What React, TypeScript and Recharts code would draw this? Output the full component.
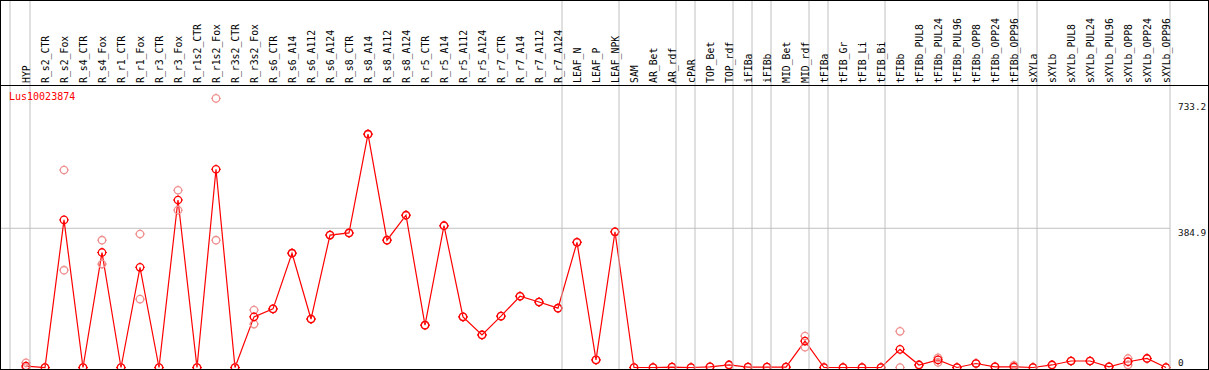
import { LineChart, Line, XAxis, YAxis, ReferenceLine } from 'recharts';

// sample names, left to right
const labels = [
  'HYP', 'R_s2_CTR', 'R_s2_Fox', 'R_s4_CTR', 'R_s4_Fox', 'R_r1_CTR', 'R_r1_Fox', 'R_r3_CTR', 'R_r3_Fox',
  'R_r1s2_CTR', 'R_r1s2_Fox', 'R_r3s2_CTR', 'R_r3s2_Fox', 'R_s6_CTR', 'R_s6_A14', 'R_s6_A112', 'R_s6_A124',
  'R_s8_CTR', 'R_s8_A14', 'R_s8_A112', 'R_s8_A124', 'R_r5_CTR', 'R_r5_A14', 'R_r5_A112', 'R_r5_A124',
  'R_r7_CTR', 'R_r7_A14', 'R_r7_A112', 'R_r7_A124', 'LEAF_N', 'LEAF_P', 'LEAF_NPK', 'SAM', 'AR_Bet', 'AR_rdf',
  'cPAR', 'TOP_Bet', 'TOP_rdf', 'iFIBa', 'iFIBb', 'MID_Bet', 'MID_rdf', 'tFIBa', 'tFIB_Gr', 'tFIB_Li', 'tFIB_Bi',
  'tFIBb', 'tFIBb_PUL8', 'tFIBb_PUL24', 'tFIBb_PUL96', 'tFIBb_OPP8', 'tFIBb_OPP24', 'tFIBb_OPP96', 'sXYLa',
  'sXYLb', 'sXYLb_PUL8', 'sXYLb_PUL24', 'sXYLb_PUL96', 'sXYLb_OPP8', 'sXYLb_OPP24', 'sXYLb_OPP96',
];

// mean expression per sample
const means = [
  4, 0, 408, 0, 318, 0, 277, 0, 463, 0, 548, 0, 140, 162, 316, 134, 366,
  372, 645, 352, 421, 117, 392, 140, 90, 142, 197, 181, 164, 346, 21, 375,
  0, 0, 1, 0, 2, 7, 1, 1, 1, 73, 0, 0, 0, 0, 50, 7, 21, 0, 11, 2, 2,
  0, 7, 18, 18, 2, 16, 25, 0,
];

// individual replicates
const rep1 = [
  13, 0, 546, 0, 352, 0, 369, 0, 490, 0, 744, 0, 159, 162, 316, 134, 366,
  372, 645, 352, 421, 117, 392, 140, 90, 142, 197, 181, 164, 346, 21, 375,
  0, 0, 1, 0, 2, 7, 1, 1, 1, 87, 0, 0, 0, 0, 100, 7, 27, 0, 11, 2, 6,
  0, 7, 18, 18, 2, 25, 25, 0,
];
const rep2 = [
  0, 0, 269, 0, 286, 0, 189, 0, 435, 0, 352, 0, 120, 162, 316, 134, 366,
  372, 645, 352, 421, 117, 392, 140, 90, 142, 197, 181, 164, 346, 21, 375,
  0, 0, 1, 0, 2, 7, 1, 1, 1, 56, 0, 0, 0, 0, 0, 7, 14, 0, 11, 2, 0,
  0, 7, 18, 18, 2, 7, 25, 0,
];

// last sample of each tissue group (gray separators)
const groupEnds = [0, 28, 31, 34, 35, 37, 38, 39, 41, 42, 45, 52, 53, 60];
const yTicks = [0, 384.9, 733.2];
const geneName = 'Lus10023874';

const data = labels.map((name, i) => ({ i, name, mean: means[i], rep1: rep1[i], rep2: rep2[i] }));

const MONO = '"DejaVu Sans Mono", monospace';

function Ring(props: any) {
  const { cx, cy, color } = props;
  if (cx == null || cy == null) return null;
  const r = 3.7;
  const t = 1.2;
  return (
    <g stroke={color} strokeWidth={1.3} fill="none">
      <circle cx={cx} cy={cy} r={r} />
      <line x1={cx} y1={cy - r - t} x2={cx} y2={cy - r} strokeWidth={1} />
      <line x1={cx} y1={cy + r} x2={cx} y2={cy + r + t} strokeWidth={1} />
      <line x1={cx - r - t} y1={cy} x2={cx - r} y2={cy} strokeWidth={1} />
      <line x1={cx + r} y1={cy} x2={cx + r + t} y2={cy} strokeWidth={1} />
    </g>
  );
}

function SampleTick(props: any) {
  const { x, payload } = props;
  const idx = payload.value as number;
  const baseY = 83;
  return (
    <g>
      {idx === 0 && <line x1={x - 16} x2={x - 16} y1={0} y2={370} stroke="#c0c0c0" />}
      {groupEnds.includes(idx) && <line x1={x + 4} x2={x + 4} y1={0} y2={370} stroke="#c0c0c0" />}
      <text
        x={x}
        y={baseY}
        transform={`rotate(-90, ${x}, ${baseY})`}
        textAnchor="start"
        dominantBaseline="central"
        fontFamily={MONO}
        fontSize={9.8}
        fill="#000"
      >
        {labels[idx]}
      </text>
    </g>
  );
}

function ValueTick(props: any) {
  const { x, y, payload } = props;
  const dy = payload.value === 0 ? -5.5 : 4.5;
  return (
    <text x={x} y={y + dy} dominantBaseline="central" textAnchor="start" fontFamily={MONO} fontSize={9.4} fill="#111">
      {payload.value}
    </text>
  );
}

export default function App() {
  return (
    <div style={{ position: 'absolute', left: 0, top: 0, width: 1209, height: 370, background: '#fff' }}>
      <LineChart width={1209} height={370} data={data} margin={{ top: 0, right: 0, bottom: 2.5, left: 1 }}>
        <XAxis
          dataKey="i"
          type="number"
          domain={[0, 60]}
          orientation="top"
          height={85}
          ticks={labels.map((_, i) => i)}
          interval={0}
          padding={{ left: 25, right: 4 }}
          axisLine={false}
          tickLine={false}
          tick={<SampleTick />}
        />
        <YAxis
          orientation="right"
          width={39}
          domain={[0, 781]}
          ticks={yTicks}
          interval={0}
          axisLine={false}
          tickLine={false}
          tick={<ValueTick />}
        />
        <ReferenceLine y={yTicks[1]} stroke="#c0c0c0" />
        <Line
          dataKey="rep1"
          stroke="none"
          isAnimationActive={false}
          activeDot={false}
          dot={(p: any) => <Ring key={`a${p.index}`} {...p} color="#f09090" />}
        />
        <Line
          dataKey="rep2"
          stroke="none"
          isAnimationActive={false}
          activeDot={false}
          dot={(p: any) => <Ring key={`b${p.index}`} {...p} color="#f09090" />}
        />
        <Line
          dataKey="mean"
          type="linear"
          stroke="#ff0000"
          strokeWidth={1.2}
          isAnimationActive={false}
          activeDot={false}
          dot={(p: any) => <Ring key={`m${p.index}`} {...p} color="#ff0000" />}
        />
      </LineChart>
      <div
        style={{
          position: 'absolute', left: 0, top: 0, width: 1209, height: 370,
          border: '1px solid #000', boxSizing: 'border-box', pointerEvents: 'none',
        }}
      />
      <div style={{ position: 'absolute', left: 0, top: 85, width: 1209, height: 1, background: '#000' }} />
      <div
        style={{
          position: 'absolute', left: 9, top: 91, color: '#ff0000',
          fontFamily: MONO, fontSize: 10, lineHeight: '12px',
        }}
      >
        {geneName}
      </div>
    </div>
  );
}
